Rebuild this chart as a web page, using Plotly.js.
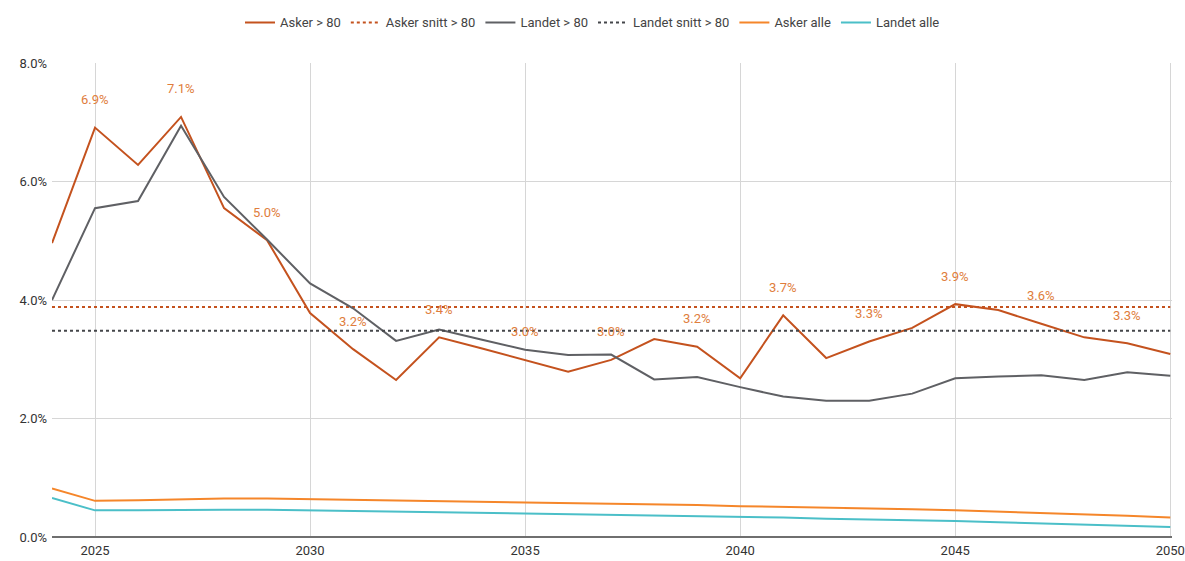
<!DOCTYPE html>
<html>
<head>
<meta charset="utf-8">
<script src="https://cdn.plot.ly/plotly-3.0.1.min.js"></script>
<style>html,body{margin:0;padding:0;background:#fff;}#chart{width:1185px;height:561px;}</style>
</head>
<body>
<div id="chart"></div>
<script>
const years = [2024,2025,2026,2027,2028,2029,2030,2031,2032,2033,2034,2035,2036,2037,2038,2039,2040,2041,2042,2043,2044,2045,2046,2047,2048,2049,2050];
const askerOver80 = [4.96,6.91,6.28,7.09,5.55,5.01,3.78,3.17,2.65,3.37,3.18,2.99,2.79,2.99,3.34,3.21,2.68,3.74,3.02,3.30,3.53,3.93,3.83,3.60,3.37,3.27,3.09];
const landetOver80 = [4.00,5.55,5.67,6.94,5.74,5.02,4.28,3.86,3.31,3.50,3.33,3.16,3.07,3.08,2.66,2.70,2.53,2.37,2.30,2.30,2.42,2.68,2.71,2.73,2.65,2.78,2.72];
const askerSnitt = 3.88;
const landetSnitt = 3.48;
const askerAlle = [0.82,0.61,0.62,0.64,0.65,0.65,0.64,0.62,0.61,0.60,0.59,0.58,0.57,0.57,0.55,0.54,0.52,0.51,0.50,0.48,0.47,0.45,0.43,0.41,0.39,0.36,0.33];
const landetAlle = [0.66,0.45,0.45,0.46,0.46,0.46,0.45,0.44,0.43,0.42,0.41,0.40,0.39,0.38,0.36,0.35,0.34,0.33,0.31,0.30,0.28,0.27,0.25,0.23,0.21,0.19,0.17];
const labelYears = [2025,2027,2029,2031,2033,2035,2037,2039,2041,2043,2045,2047,2049];
const yTicks = [0,2,4,6,8];
const xTicks = [2025,2030,2035,2040,2045,2050];

const cAsker = '#c4521e', cLandet = '#5f6064', cAskerAlle = '#f5862a', cLandetAlle = '#4bbfc8';

const traces = [
  {x: years, y: askerOver80, name: 'Asker > 80', mode: 'lines', line: {color: cAsker, width: 2}},
  {x: years, y: years.map(() => askerSnitt), name: 'Asker snitt > 80', mode: 'lines', line: {color: cAsker, width: 2, dash: 'dot'}},
  {x: years, y: landetOver80, name: 'Landet > 80', mode: 'lines', line: {color: cLandet, width: 2}},
  {x: years, y: years.map(() => landetSnitt), name: 'Landet snitt > 80', mode: 'lines', line: {color: '#44464a', width: 2, dash: 'dot'}},
  {x: years, y: askerAlle, name: 'Asker alle', mode: 'lines', line: {color: cAskerAlle, width: 2}},
  {x: years, y: landetAlle, name: 'Landet alle', mode: 'lines', line: {color: cLandetAlle, width: 2}}
];

const annotations = labelYears.map(yr => {
  const v = askerOver80[years.indexOf(yr)];
  return {x: yr, y: v, xref: 'x', yref: 'y', text: v.toFixed(1) + '%', showarrow: false,
    yshift: 28, font: {family: 'Roboto, Arial, sans-serif', size: 13, color: '#e07d3c'}};
});

const layout = {
  width: 1185, height: 561,
  margin: {l: 52, r: 13, t: 63, b: 24},
  paper_bgcolor: '#fff', plot_bgcolor: '#fff',
  font: {family: 'Roboto, Arial, sans-serif', size: 12, color: '#444'},
  showlegend: true,
  legend: {orientation: 'h', xref: 'container', yref: 'container', x: 0.5, xanchor: 'center', y: 0.96, yanchor: 'middle',
    font: {size: 13, color: '#444'}, itemwidth: 30, tracegroupgap: 0},
  xaxis: {range: [2024, 2050.04], tickvals: xTicks, ticktext: xTicks.map(String), showgrid: true, gridcolor: '#d6d6d6',
    zeroline: false, showline: false, ticks: '', ticklabelstandoff: 4, ticklabeloverflow: 'allow',
    tickfont: {size: 13, color: '#333'}},
  yaxis: {range: [0, 8], tickvals: yTicks, ticktext: yTicks.map(v => v.toFixed(1) + '%'), showgrid: true, gridcolor: '#d6d6d6',
    zeroline: true, zerolinecolor: '#6f6f6f', zerolinewidth: 2, ticks: '', ticklabelstandoff: 4, tickfont: {size: 13, color: '#333'}},
  annotations: annotations
};

Plotly.newPlot('chart', traces, layout, {displayModeBar: false, staticPlot: true});
</script>
</body>
</html>
